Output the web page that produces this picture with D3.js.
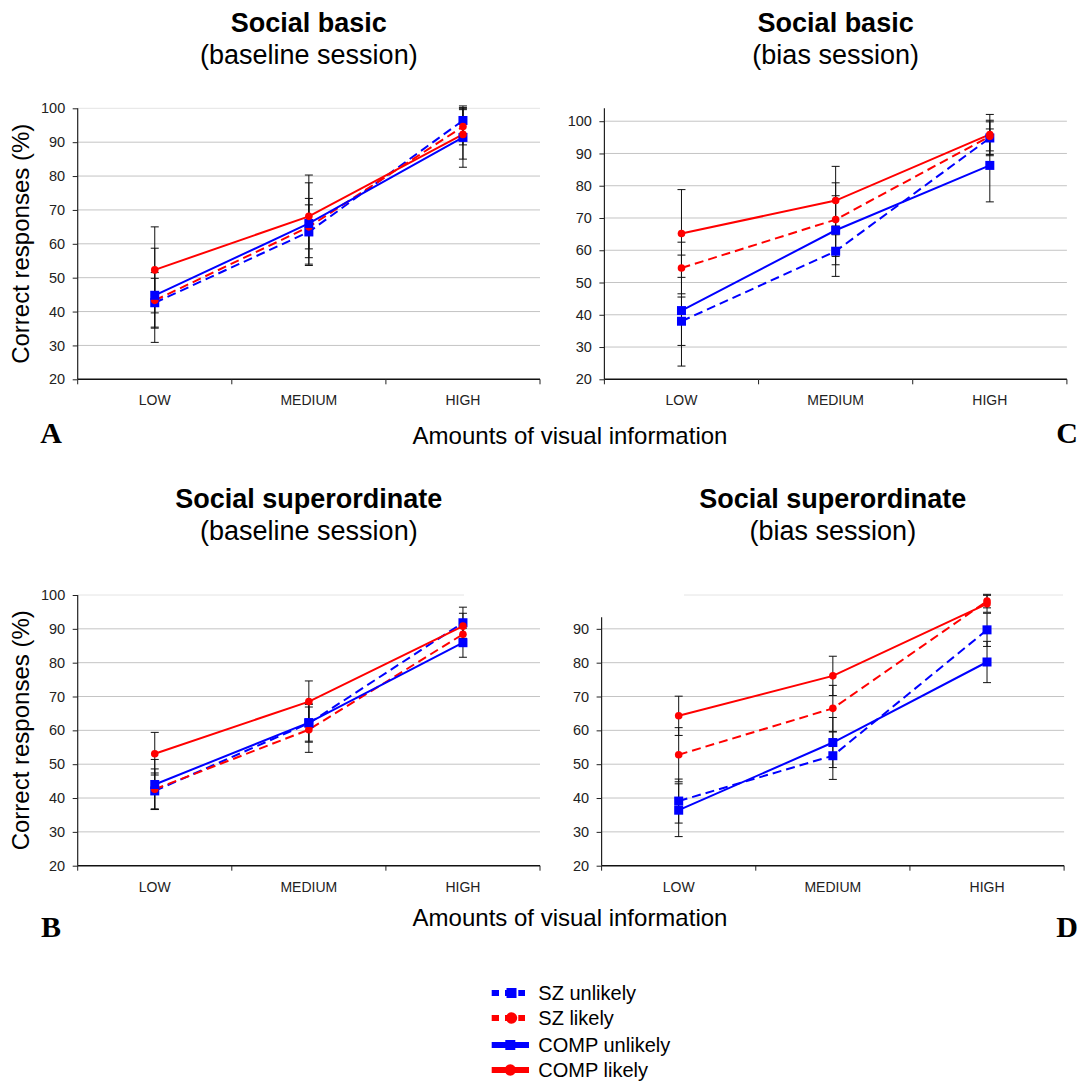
<!DOCTYPE html>
<html>
<head>
<meta charset="utf-8">
<script src="https://cdn.jsdelivr.net/npm/d3@7/dist/d3.min.js"></script>
<style>
  html, body { margin: 0; padding: 0; background: #fff; }
  svg { display: block; font-family: "Liberation Sans", Arial, Helvetica, sans-serif; }
</style>
</head>
<body>
<svg id="fig" width="1081" height="1083"></svg>
<script>
// Amounts of visual information (x) and series
const categories = ["LOW", "MEDIUM", "HIGH"];
const seriesNames = ["SZ unlikely", "SZ likely", "COMP unlikely", "COMP likely"];

// Y tick values
const yTicksFull = [20, 30, 40, 50, 60, 70, 80, 90, 100];
const yTicksSuperBias = [20, 30, 40, 50, 60, 70, 80, 90];

// Social basic, baseline session: mean % correct and error (per series, per category)
const basicBaselineMean = [
  [42.6, 63.5, 96.4],
  [43.3, 65.0, 94.6],
  [44.8, 66.0, 91.4],
  [52.3, 68.1, 92.3]
];
const basicBaselineErr = [
  [7.2, 9.9, 4.3],
  [8.2, 6.5, 5.4],
  [13.9, 12.0, 8.8],
  [12.7, 12.2, 7.3]
];

// Social basic, bias session
const basicBiasMean = [
  [38.0, 59.7, 94.8],
  [54.5, 69.5, 95.3],
  [41.3, 66.2, 86.3],
  [65.2, 75.4, 95.9]
];
const basicBiasErr = [
  [7.5, 7.8, 5.5],
  [8.0, 11.4, 4.5],
  [17.2, 10.7, 11.3],
  [13.6, 10.6, 6.2]
];

// Social superordinate, baseline session
const superBaselineMean = [
  [42.1, 62.1, 91.8],
  [42.6, 60.2, 88.4],
  [44.0, 62.3, 85.9],
  [53.1, 68.5, 90.8]
];
const superBaselineErr = [
  [5.3, 5.6, 4.6],
  [6.0, 6.7, 3.0],
  [7.4, 5.5, 4.3],
  [6.3, 6.1, 3.8]
];

// Social superordinate, bias session
const superBiasMean = [
  [39.1, 52.5, 89.7],
  [52.8, 66.5, 98.2],
  [36.4, 56.4, 80.2],
  [64.3, 76.1, 97.4]
];
const superBiasErr = [
  [6.5, 7.0, 4.9],
  [8.0, 6.8, 2.0],
  [7.8, 7.4, 6.1],
  [5.8, 5.8, 2.5]
];

// Series styling: SZ dashed, COMP solid; unlikely = blue squares, likely = red circles
const seriesStyle = [
  { color: "#0000ff", dash: "9,5", marker: "square" },
  { color: "#ff0000", dash: "9,5", marker: "circle" },
  { color: "#0000ff", dash: null, marker: "square" },
  { color: "#ff0000", dash: null, marker: "circle" }
];

const svg = d3.select("#fig");
const FONT = '"Liberation Sans", Arial, Helvetica, sans-serif';

const panels = [
  { title: "Social basic", sub: "(baseline session)", mean: basicBaselineMean, err: basicBaselineErr,
    x0: 77.7, x1: 540, yTop: 108.3, yBot: 379.3, dom: [20, 100], ticks: yTicksFull,
    axisTop: 100, light: [77.7, 540], titleY: 32 },
  { title: "Social basic", sub: "(bias session)", mean: basicBiasMean, err: basicBiasErr,
    x0: 604.4, x1: 1066.9, yTop: 108.3, yBot: 379.3, dom: [20, 104], ticks: yTicksFull,
    axisTop: 104, light: null, titleY: 32 },
  { title: "Social superordinate", sub: "(baseline session)", mean: superBaselineMean, err: superBaselineErr,
    x0: 77.7, x1: 540, yTop: 595, yBot: 865.7, dom: [20, 100], ticks: yTicksFull,
    axisTop: 100, light: [77.7, 464], titleY: 508 },
  { title: "Social superordinate", sub: "(bias session)", mean: superBiasMean, err: superBiasErr,
    x0: 601.6, x1: 1064.1, yTop: 595, yBot: 865.7, dom: [20, 100], ticks: yTicksSuperBias,
    axisTop: 93.4, light: [684, 1063], titleY: 508 }
];

panels.forEach(p => {
  const g = svg.append("g");
  const x = d3.scaleBand().domain(categories).range([p.x0, p.x1]).paddingInner(0).paddingOuter(0);
  const y = d3.scaleLinear().domain(p.dom).range([p.yBot, p.yTop]);
  const cx = c => x(c) + x.bandwidth() / 2;
  const lightTop = p.light !== null;

  // gridlines
  g.append("g").selectAll("line")
    .data(p.ticks.filter(t => t > p.dom[0] && !(lightTop && t === 100)))
    .join("line")
    .attr("x1", p.x0).attr("x2", p.x1)
    .attr("y1", d => y(d)).attr("y2", d => y(d))
    .attr("stroke", "#c4c4c4").attr("stroke-width", 1);
  if (lightTop) {
    g.append("line")
      .attr("x1", p.light[0]).attr("x2", p.light[1])
      .attr("y1", y(100)).attr("y2", y(100))
      .attr("stroke", "#e4e4e4").attr("stroke-width", 1);
  }

  // y axis
  const yAxis = d3.axisLeft(y).tickValues(p.ticks).tickSize(5).tickSizeOuter(0).tickPadding(7.5);
  const ya = g.append("g").attr("transform", `translate(${p.x0},0)`).call(yAxis);
  ya.select(".domain").remove();
  ya.selectAll(".tick line").attr("stroke", "#222");
  ya.selectAll(".tick text").attr("fill", "#222").style("font-size", "14.5px").style("font-family", FONT);
  g.append("line")
    .attr("x1", p.x0).attr("x2", p.x0)
    .attr("y1", y(p.axisTop)).attr("y2", y(p.dom[0]))
    .attr("stroke", "#222").attr("stroke-width", 1.2);

  // x axis: labels at band centres, ticks at band boundaries
  const xAxis = d3.axisBottom(x).tickSize(0).tickPadding(16);
  const xa = g.append("g").attr("transform", `translate(0,${p.yBot})`).call(xAxis);
  xa.select(".domain").remove();
  xa.selectAll(".tick text").attr("fill", "#222").style("font-size", "14px").style("font-family", FONT);
  g.append("line")
    .attr("x1", p.x0).attr("x2", p.x1)
    .attr("y1", p.yBot).attr("y2", p.yBot)
    .attr("stroke", "#111").attr("stroke-width", 1.4);
  const bounds = categories.map(c => x(c)).concat([x.range()[1]]);
  g.append("g").selectAll("line").data(bounds).join("line")
    .attr("x1", d => d).attr("x2", d => d)
    .attr("y1", p.yBot).attr("y2", p.yBot + 5)
    .attr("stroke", "#222").attr("stroke-width", 1);

  // error bars
  const eb = g.append("g").attr("stroke", "#111").attr("stroke-width", 1);
  p.mean.forEach((vals, si) => {
    vals.forEach((v, ci) => {
      const e = p.err[si][ci];
      const xc = cx(categories[ci]);
      eb.append("line").attr("x1", xc).attr("x2", xc).attr("y1", y(v - e)).attr("y2", y(v + e));
      [v - e, v + e].forEach(t => {
        eb.append("line").attr("x1", xc - 4).attr("x2", xc + 4).attr("y1", y(t)).attr("y2", y(t));
      });
    });
  });

  // series lines
  const line = d3.line().x((d, i) => cx(categories[i])).y(d => y(d));
  p.mean.forEach((vals, si) => {
    const st = seriesStyle[si];
    g.append("path")
      .attr("d", line(vals))
      .attr("fill", "none")
      .attr("stroke", st.color)
      .attr("stroke-width", 2)
      .attr("stroke-dasharray", st.dash);
  });

  // markers
  p.mean.forEach((vals, si) => {
    const st = seriesStyle[si];
    vals.forEach((v, ci) => {
      const xc = cx(categories[ci]);
      if (st.marker === "square") {
        g.append("rect").attr("x", xc - 4.5).attr("y", y(v) - 4.5)
          .attr("width", 9).attr("height", 9).attr("fill", st.color);
      } else {
        g.append("circle").attr("cx", xc).attr("cy", y(v)).attr("r", 3.8).attr("fill", st.color);
      }
    });
  });

  // titles
  const tcx = (p.x0 + p.x1) / 2;
  g.append("text").attr("x", tcx).attr("y", p.titleY).attr("text-anchor", "middle")
    .style("font-size", "27px").style("font-weight", "bold").style("font-family", FONT)
    .text(p.title);
  g.append("text").attr("x", tcx).attr("y", p.titleY + 32).attr("text-anchor", "middle")
    .style("font-size", "27px").style("font-family", FONT)
    .text(p.sub);
});

// y axis titles (left column)
[243.8, 730.3].forEach(cy => {
  svg.append("text")
    .attr("transform", `translate(29,${cy}) rotate(-90)`)
    .attr("text-anchor", "middle")
    .style("font-size", "24px").style("font-family", FONT)
    .text("Correct responses (%)");
});

// x axis titles (shared per row)
[444, 926].forEach(by => {
  svg.append("text").attr("x", 570).attr("y", by).attr("text-anchor", "middle")
    .style("font-size", "24px").style("font-family", FONT)
    .text("Amounts of visual information");
});

// panel letters
const letters = [["A", 51, 443], ["C", 1067, 443], ["B", 51, 937], ["D", 1067, 937]];
letters.forEach(([t, lx, ly]) => {
  svg.append("text").attr("x", lx).attr("y", ly).attr("text-anchor", "middle")
    .style("font-size", "30px").style("font-weight", "bold")
    .style("font-family", '"Liberation Serif", "Times New Roman", serif')
    .text(t);
});

// legend
const legendRows = [993, 1018, 1045, 1070];
const lg = svg.append("g");
seriesNames.forEach((name, i) => {
  const st = seriesStyle[i];
  const ly = legendRows[i];
  if (st.dash) {
    lg.append("line").attr("x1", 491.7).attr("x2", 525).attr("y1", ly).attr("y2", ly)
      .attr("stroke", st.color).attr("stroke-width", 6).attr("stroke-dasharray", "7.3,6");
  } else {
    lg.append("line").attr("x1", 491.7).attr("x2", 529).attr("y1", ly).attr("y2", ly)
      .attr("stroke", st.color).attr("stroke-width", 6);
  }
  const mx = st.dash ? 511.5 : 510.3;
  if (st.marker === "square") {
    lg.append("rect").attr("x", mx - 5).attr("y", ly - 5).attr("width", 10).attr("height", 10).attr("fill", st.color);
  } else {
    lg.append("circle").attr("cx", mx).attr("cy", ly).attr("r", 5.7).attr("fill", st.color);
  }
  lg.append("text").attr("x", 538.3).attr("y", ly + 7)
    .style("font-size", "20px").style("font-family", FONT).text(name);
});
</script>
</body>
</html>
